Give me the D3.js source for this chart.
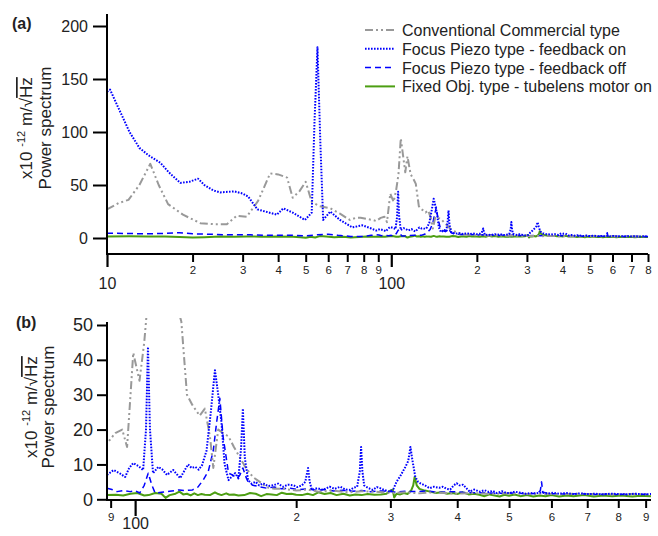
<!DOCTYPE html>
<html><head><meta charset="utf-8">
<script src="https://cdn.jsdelivr.net/npm/d3@7"></script>
<style>
body{margin:0;background:#fff;}
text{font-family:"Liberation Sans",Arial,sans-serif;fill:#222;}
</style></head>
<body>
<svg id="chart" width="658" height="536"></svg>
<script>
// ---------------- DATA ----------------
const seriesNames = ["Conventional Commercial type","Focus Piezo type - feedback on","Focus Piezo type - feedback off","Fixed Obj. type - tubelens motor on"];
const yTicksA = [0,50,100,150,200];
const yTicksB = [0,10,20,30,40,50];
const majorTicksA = [10,100];
const minorTicksA = [20,30,40,50,60,70,80,90,200,300,400,500,600,700,800];
const majorTicksB = [100];
const minorTicksB = [90,200,300,400,500,600,700,800,900];

const conventional = [[10,27],[11,33],[11.9,36],[13,50],[14.2,70],[15.2,50],[16.4,32],[18.5,22],[21.3,14],[24,13],[26.4,13],[28.6,21],[31,20],[34,35],[37.5,61],[40,60],[43,57],[45,38],[47.5,44],[50,53],[52.5,34],[56,30],[61,28],[66,23],[71.5,17],[75,19],[78,19],[82,18],[86,17],[88.6,16],[91.8,19],[94.6,20],[96.6,15],[99.2,42],[101.9,34],[104,45],[106,60],[108,94],[110,78],[112,62],[114,77],[117,60],[120,55],[122,51],[125,30],[128,27],[132,24],[135,26],[138,18],[140,9],[143,20],[146,19],[149.5,18],[153,15],[157,12],[161,9],[166,6.4],[171,5],[176,3.5],[182,3],[190,3],[200,2.5],[210,2.8],[220,2.2],[235,2.5],[250,2],[265,2.3],[280,2.2],[300,1.8],[320,2],[340,1.7],[360,2],[380,1.8],[400,1.6],[430,1.8],[460,1.5],[500,1.7],[540,1.5],[580,1.6],[620,1.4],[670,1.6],[720,1.5],[780,1.4],[840,1.5],[910,1.4]];

const piezoOn = [[10,138],[10.25,140],[11,122],[12,100],[13,85],[14,78],[15.4,71],[16.5,62],[18.1,52],[19.5,53],[20.9,56],[22,50],[23.6,45],[25,43],[28,44],[30,42],[31.4,39],[33.8,27],[36,25],[39.6,22],[41.7,28],[45,24],[49.7,17],[52.5,24],[53.7,110],[55,180],[56.3,90],[57.6,17],[61,25],[66,17],[73,10],[79,12],[85,9],[88.6,7],[91.2,8.4],[93.5,7.5],[95.8,6.4],[97.5,9],[99.2,10.4],[101.5,9.5],[103.5,8.4],[104.8,20],[105.7,43.7],[106.6,20],[108,7.5],[110.5,9.3],[112.5,8.5],[114.7,7],[117.8,8.4],[121.4,6.1],[125.6,10],[127.5,9],[129.5,9.3],[131.5,8.5],[133.4,9.8],[136,14],[138.5,25],[141,37],[143,30],[145,22],[147,10],[149.5,5.5],[151.5,6.5],[153.8,7.5],[156,6],[157.8,15],[159,26],[160.3,12],[162.6,5.5],[165,4.5],[168,5],[170.5,4],[173.5,4.6],[177,3.8],[181,4],[185,4.5],[189,3.6],[193,4.2],[197.6,4],[201,3.5],[205,4],[208,5],[210.5,9],[212,5],[214,2.7],[219,3.2],[224.5,2.7],[231,3.6],[236,3],[241.8,3.6],[247,2.8],[252.5,2.7],[256,3.3],[260,3.6],[263,8],[264.5,15],[266,8],[268,4],[273,3.2],[278,2.7],[283,3.5],[287,3.2],[293,2.6],[299,2.2],[304,3],[308,5],[314,7],[320,9.3],[324,11],[327,15],[330,11],[334,6.4],[338,5],[341,4.6],[348,4],[355,3.2],[362,3.6],[370,3.3],[376,3.6],[382,3],[388,2.8],[394,4],[399,4.6],[404,4],[410,4.2],[416,3.2],[422,2.2],[430,2.8],[441,2.2],[450,2.6],[458,2.1],[466,2.4],[474,1.8],[485,2.3],[495,1.8],[502,1.8],[512,2.2],[525,1.9],[537,1.6],[548,1.8],[560,1.7],[575,2],[590,1.6],[605,1.9],[620,1.6],[640,1.8],[660,1.5],[680,1.7],[700,1.5],[725,1.6],[750,1.4],[775,1.6],[800,1.5],[830,1.4],[860,1.6],[890,1.4],[921,1.5]];

const piezoOff = [[10,4.5],[12,4.2],[14,4],[16,4.3],[18,5],[20,4],[23,3.5],[27,3],[32,3],[38,2.5],[45,2.5],[50,2],[55,3],[60,3.5],[65,2.5],[72,1.5],[80,1.5],[85,2.5],[88.6,3.2],[90.5,2.8],[92.5,2.2],[95,2.5],[97.9,2.2],[100,2.5],[102,1.8],[104,4],[105.8,7.5],[107.5,4],[109,1.8],[112,2],[116,2.3],[121,2.7],[124,2.5],[128,2.7],[131,3.5],[134,5.5],[137,8],[140,14],[142,22],[144,29],[146,18],[149.5,7.5],[152,7],[155,6],[157,7],[159,9],[161,6.5],[162.6,5],[166,4],[171,3.6],[176,3.2],[182,3.5],[188,3],[195,3.2],[202,2.8],[210,3],[218,2.6],[226,2.8],[235,2.4],[245,2.6],[255,2.3],[265,2.5],[275,2.2],[290,2.4],[305,2.1],[320,2.3],[335,2.2],[350,2.4],[370,2],[390,2.2],[410,2],[430,1.9],[455,1.8],[480,1.7],[510,1.8],[540,1.6],[565,1.7],[572,2.5],[575,5],[578,2],[600,1.6],[640,1.5],[680,1.6],[720,1.4],[760,1.5],[800,1.4],[850,1.5],[921,1.4]];

const fixedObj = [[10,1.5],[12,1.6],[14,1.5],[16,1.4],[18,1],[20,0.5],[22,0.8],[25,1.5],[28,1.2],[31,1.5],[35,1.2],[40,1.5],[45,1.2],[48,0.8],[50,0.3],[52,1.2],[54,0.5],[56,1.8],[59,1.5],[63,0.8],[68,1.2],[72,0.5],[77,1],[82,1.3],[86,1.1],[88.6,1.2],[92,1.3],[95,1.1],[98,1.6],[101,1.8],[104,1.1],[106,1.2],[109,1.8],[112,1.6],[114,0.4],[116,1.2],[119,1.6],[121,2.2],[123,1.4],[125,1.6],[127,1.1],[129,1.7],[131,1.2],[133,1.5],[135,1.3],[138,1.2],[141,2],[143,1.5],[145,1.2],[148,1.7],[150,1.3],[153,1.4],[156,1.1],[160,1.2],[164,1.8],[168,1.6],[172,0.9],[176,1.5],[180,1.4],[184,1.2],[188,1.9],[192,1.5],[196,1.6],[200,1.3],[205,1.2],[210,1.6],[215,1.2],[220,2],[226,1.5],[232,1.8],[238,1.2],[245,1.6],[252,1.1],[258,1.4],[265,1.2],[272,1.5],[280,1.3],[288,1.4],[295,1.6],[300,2.5],[303,2.8],[305,0.5],[308,1.6],[313,1.4],[318,1.8],[323,1.5],[328,2.5],[331,4],[333,6.4],[336,4],[340,3],[348,2.5],[356,2.2],[365,1.8],[374,2],[383,1.6],[392,1.8],[400,1.5],[410,2],[420,1.4],[430,1.6],[440,1.3],[450,0.9],[460,1.4],[470,1.1],[480,0.8],[490,1.3],[500,1],[512,1.4],[525,0.9],[540,1.2],[555,0.8],[570,1.1],[585,0.9],[600,1.2],[620,0.8],[640,1.1],[660,0.9],[690,1.2],[720,0.8],[750,1.1],[780,0.9],[810,1.1],[850,0.8],[880,1],[921,0.9]];

// ---------------- STYLES ----------------
const styles = [
  {data: conventional, color:"#999999", width:2, dash:"8,3,2,3,2,3"},
  {data: piezoOn, color:"#0000ff", width:2, dash:"1.6,1.4"},
  {data: piezoOff, color:"#0000ff", width:1.5, dash:"6,4"},
  {data: fixedObj, color:"#4c9e12", width:2, dash:null}
];

const svg = d3.select("#chart");

function panel(cfg){
  const g = svg.append("g");
  const x = d3.scaleLog().domain(cfg.xDomain).range(cfg.xRange);
  const y = d3.scaleLinear().domain(cfg.yDomain).range(cfg.yRange);
  const clipId = "clip" + cfg.id;
  svg.append("clipPath").attr("id", clipId).append("rect")
    .attr("x", cfg.xRange[0]).attr("y", cfg.clipTop)
    .attr("width", cfg.xRange[1]-cfg.xRange[0]).attr("height", cfg.axisY - cfg.clipTop);
  const line = d3.line().x(d=>x(d[0])).y(d=>y(d[1]));
  const lg = g.append("g").attr("clip-path", `url(#${clipId})`);
  [3,2,0,1].forEach(i=>{
    const s = styles[i];
    const data = s.data.filter(d=>d[0]>=cfg.xDomain[0]*0.97 && d[0]<=cfg.xDomain[1]*1.03);
    lg.append("path").datum(data).attr("d", line)
      .attr("fill","none").attr("stroke", s.color).attr("stroke-width", s.width)
      .attr("stroke-dasharray", s.dash).attr("stroke-linejoin","round");
  });
  const ya = g.append("g").attr("transform",`translate(${cfg.xRange[0]},0)`)
    .call(d3.axisLeft(y).tickValues(cfg.yTicks).tickSize(cfg.yTickLen).tickPadding(cfg.yPad).tickFormat(d3.format("d")));
  ya.select(".domain").remove();
  ya.selectAll("line").attr("stroke","#000").attr("stroke-width",2);
  ya.selectAll("text").style("font-size", cfg.yFont+"px").attr("fill","#222");
  const xm = g.append("g").attr("transform",`translate(0,${cfg.axisY})`)
    .call(d3.axisBottom(x).tickValues(cfg.minor).tickSize(cfg.minorLen).tickPadding(cfg.minorPad)
      .tickFormat(d=>String(d).replace(/0+$/,"")));
  xm.select(".domain").remove();
  xm.selectAll("line").attr("stroke","#000").attr("stroke-width",2);
  xm.selectAll("text").style("font-size","11.5px").attr("fill","#222");
  const xM = g.append("g").attr("transform",`translate(0,${cfg.axisY})`)
    .call(d3.axisBottom(x).tickValues(cfg.major).tickSize(cfg.majorLen).tickPadding(cfg.majorPad).tickFormat(d3.format("d")));
  xM.select(".domain").remove();
  xM.selectAll("line").attr("stroke","#000").attr("stroke-width",2.2);
  xM.selectAll("text").style("font-size","16px").attr("fill","#222");
  g.append("line").attr("x1",cfg.xRange[0]).attr("x2",cfg.xRange[0])
    .attr("y1",cfg.yAxisTop).attr("y2",cfg.axisY+1).attr("stroke","#000").attr("stroke-width",2);
  g.append("line").attr("x1",cfg.xRange[0]-1).attr("x2",cfg.xRange[1])
    .attr("y1",cfg.axisY).attr("y2",cfg.axisY).attr("stroke","#000").attr("stroke-width",2);
  g.append("text").attr("x",cfg.labelX).attr("y",cfg.labelY).text(cfg.label)
    .style("font-size","16px").style("font-weight","bold");
  const t = g.append("g").attr("transform",`translate(${cfg.titleX},${cfg.titleY}) rotate(-90)`);
  const t1 = t.append("text").attr("text-anchor","middle").attr("y",0).style("font-size","17px");
  t1.append("tspan").text("x10 ");
  t1.append("tspan").attr("dy",-7).style("font-size","11px").text("-12");
  t1.append("tspan").attr("dy",7).text(" m/\u221A");
  t1.append("tspan").style("text-decoration","overline").text("Hz");
  t.append("text").attr("text-anchor","middle").attr("y",cfg.titleGap).style("font-size","17px").text("Power spectrum");
  return {x,y};
}

panel({id:"A", xDomain:[10,800], xRange:[107,648], yDomain:[0,200], yRange:[238,26],
  yTicks:yTicksA, major:majorTicksA, minor:minorTicksA, axisY:254, clipTop:10, yAxisTop:14,
  yTickLen:14, yPad:5, yFont:16, minorLen:8, minorPad:4, majorLen:13, majorPad:11,
  label:"(a)", labelX:12, labelY:29, titleX:32, titleY:128, titleGap:19});

panel({id:"B", xDomain:[88.6,921], xRange:[107,651], yDomain:[0,50], yRange:[499.3,325],
  yTicks:yTicksB, major:majorTicksB, minor:minorTicksB, axisY:500, clipTop:318, yAxisTop:322,
  yTickLen:10, yPad:4, yFont:18, minorLen:8, minorPad:5, majorLen:16, majorPad:2,
  label:"(b)", labelX:16, labelY:328, titleX:37, titleY:407, titleGap:17});

const leg = svg.append("g").attr("transform","translate(365,30)");
seriesNames.forEach((name,i)=>{
  const s = styles[i];
  const row = leg.append("g").attr("transform",`translate(0,${i*18.8})`);
  row.append("line").attr("x1",0).attr("x2",30).attr("y1",0).attr("y2",0)
    .attr("stroke",s.color).attr("stroke-width",s.width).attr("stroke-dasharray",s.dash);
  row.append("text").attr("x",37).attr("y",6).style("font-size","16px").text(name);
});
</script>
</body></html>
